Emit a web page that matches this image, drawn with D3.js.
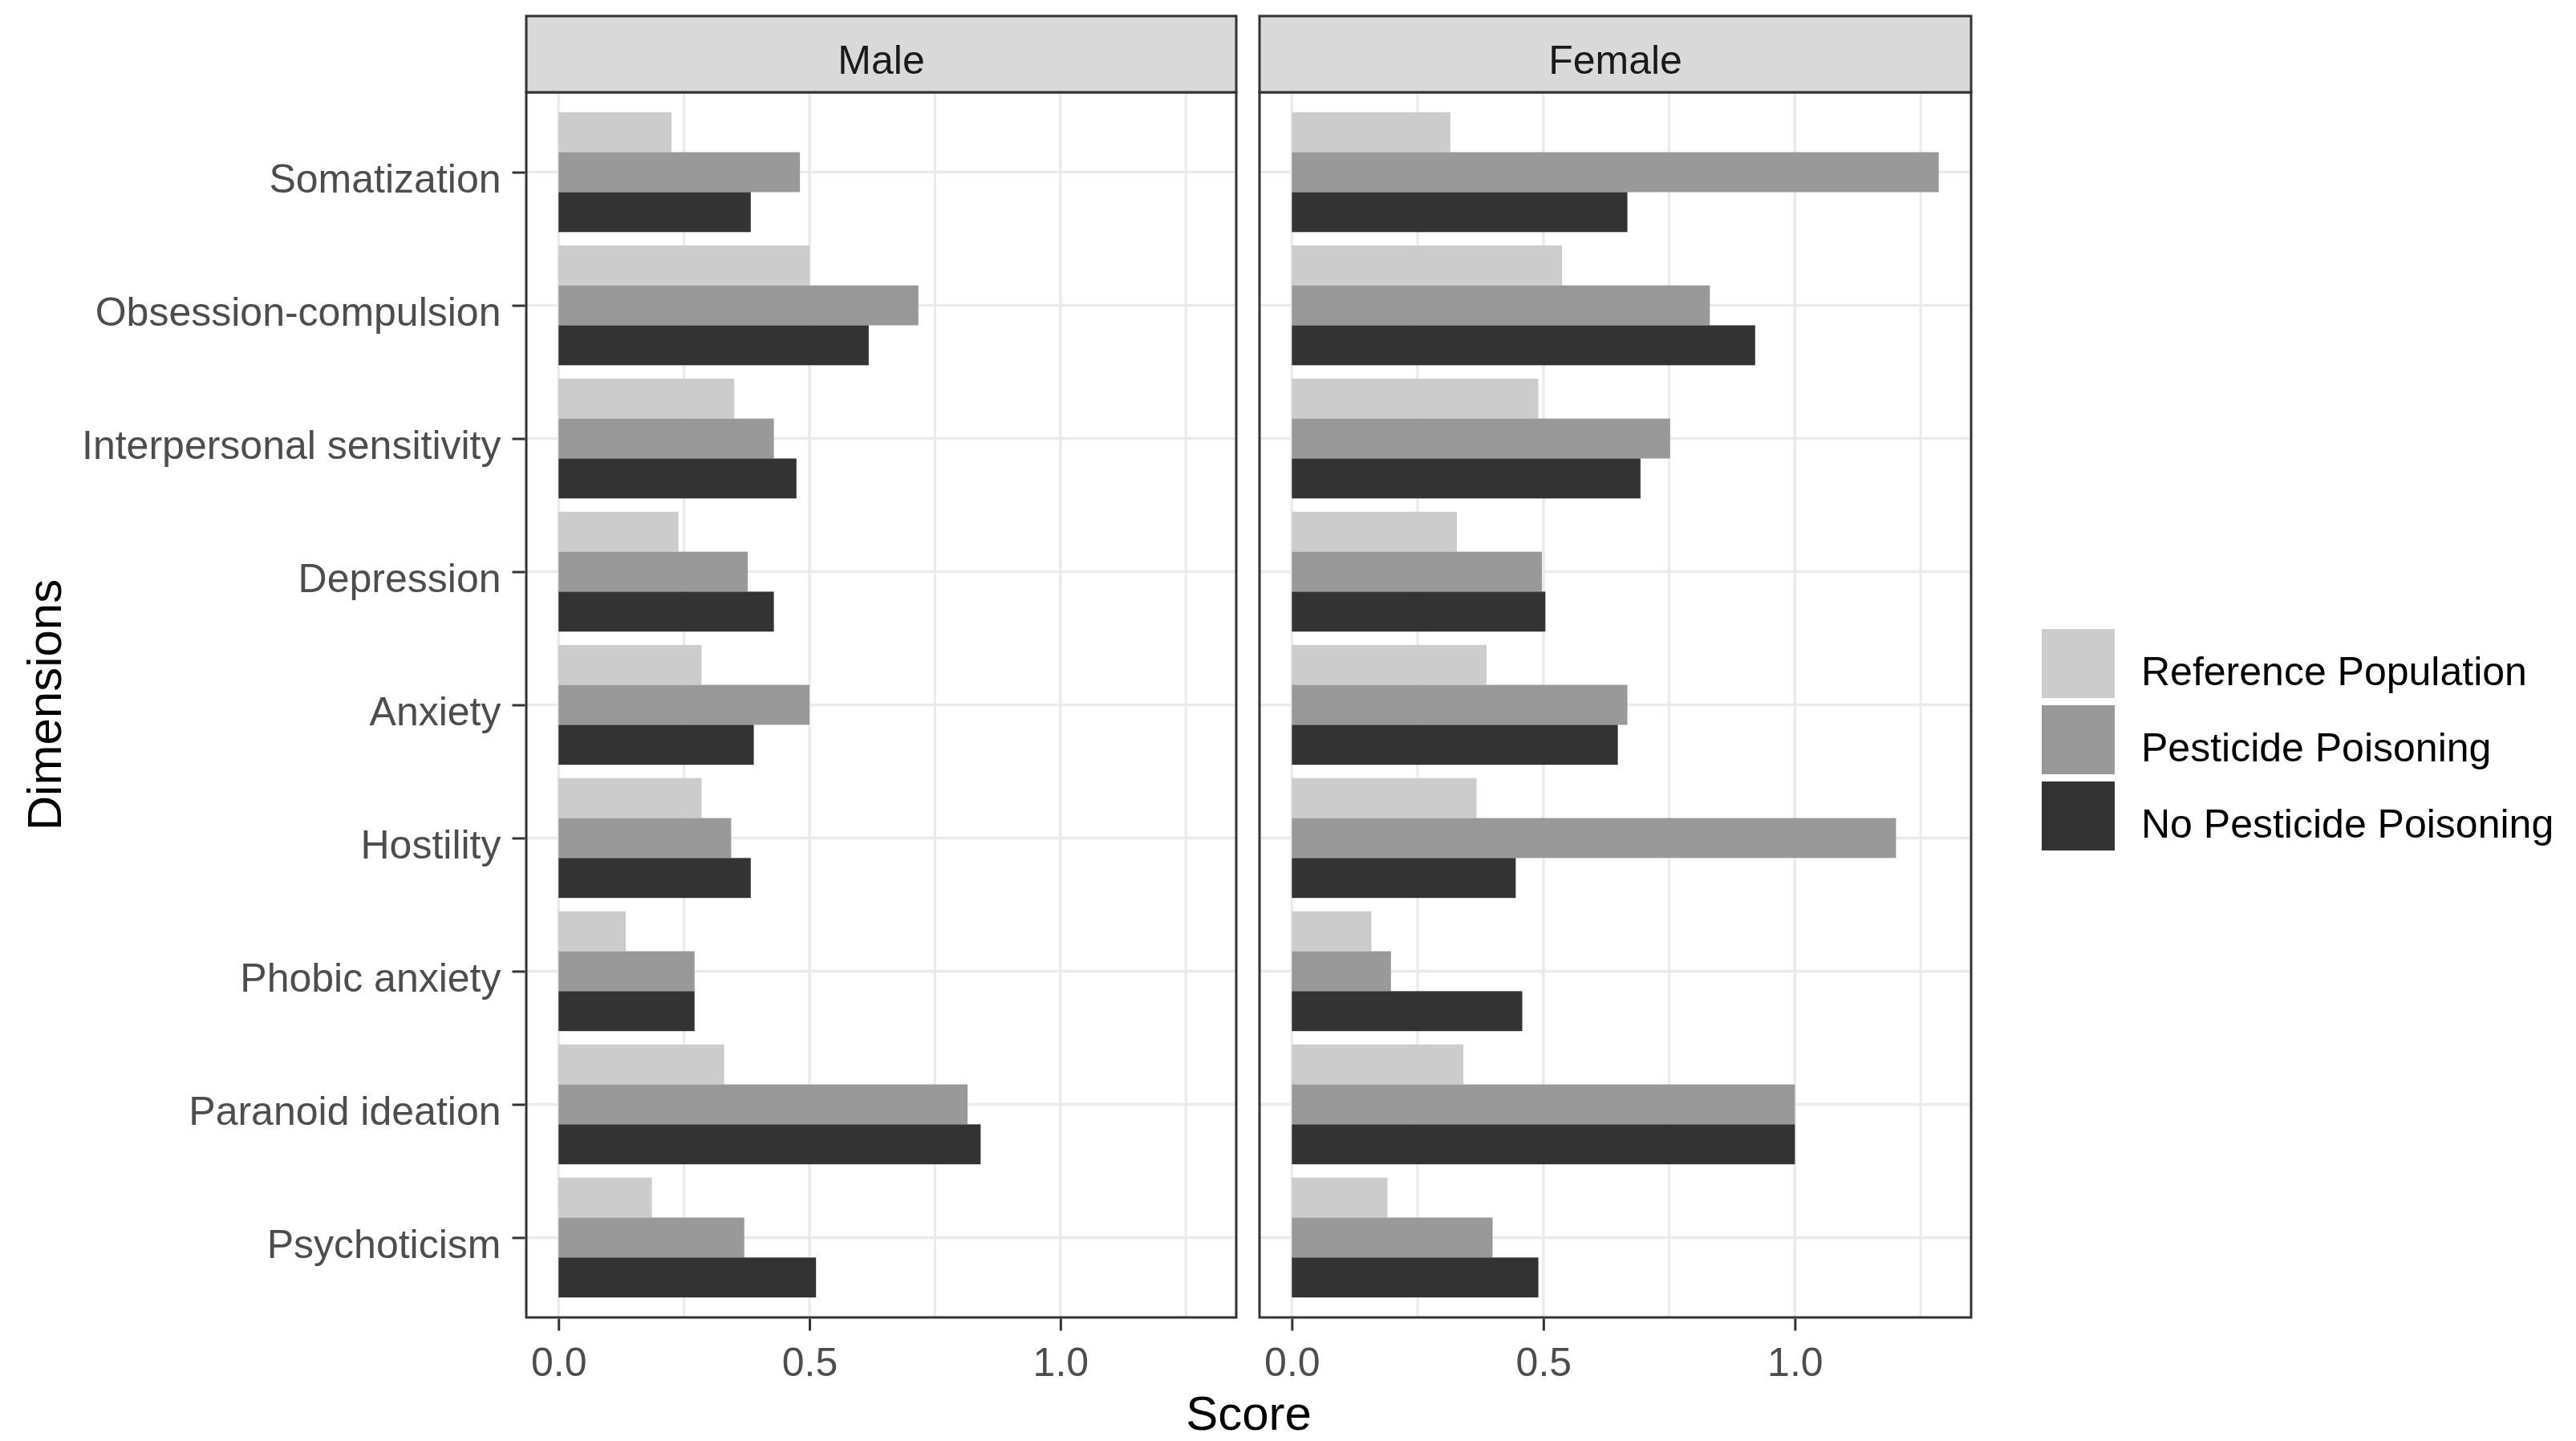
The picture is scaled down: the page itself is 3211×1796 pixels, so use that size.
<!DOCTYPE html>
<html>
<head>
<meta charset="utf-8">
<script src="https://cdn.jsdelivr.net/npm/d3@7"></script>
<style>
  html, body { margin: 0; padding: 0; background: #ffffff; }
  svg text { font-family: "Liberation Sans", Arial, sans-serif; }
</style>
</head>
<body>
<svg id="chart" width="3211" height="1796"></svg>
<script>
// ---------------- data ----------------
const categories = ["Somatization", "Obsession-compulsion", "Interpersonal sensitivity", "Depression",
  "Anxiety", "Hostility", "Phobic anxiety", "Paranoid ideation", "Psychoticism"];
const series = ["Reference Population", "Pesticide Poisoning", "No Pesticide Poisoning"];
const seriesColors = ["#cccccc", "#999999", "#333333"];
const panels = ["Male", "Female"];

const maleReference     = [0.225, 0.500, 0.350, 0.239, 0.285, 0.285, 0.134, 0.330, 0.186];
const malePesticide     = [0.481, 0.717, 0.429, 0.377, 0.500, 0.344, 0.271, 0.815, 0.370];
const maleNoPesticide   = [0.383, 0.618, 0.474, 0.429, 0.389, 0.383, 0.271, 0.841, 0.513];
const femaleReference   = [0.315, 0.537, 0.490, 0.328, 0.387, 0.367, 0.158, 0.341, 0.190];
const femalePesticide   = [1.286, 0.831, 0.752, 0.497, 0.667, 1.201, 0.197, 1.000, 0.399];
const femaleNoPesticide = [0.667, 0.921, 0.693, 0.504, 0.648, 0.445, 0.458, 1.000, 0.490];

const xMajorTicks = [0, 0.5, 1.0];
const xMinorTicks = [0.25, 0.75, 1.25];
const xTitle = "Score";
const yTitle = "Dimensions";

const panelValues = {
  Male: [maleReference, malePesticide, maleNoPesticide],
  Female: [femaleReference, femalePesticide, femaleNoPesticide]
};

// ---------------- layout ----------------
const svg = d3.select("#chart");
const panelX = { Male: [656, 1541], Female: [1570, 2457] };
const stripTop = 20, panelTop = 115, panelBottom = 1642;
const frame = "#333333", grid = "#ebebeb";

const allVals = [].concat(...panels.map(p => [].concat(...panelValues[p])));
const vmax = d3.max(allVals);

const y = d3.scalePoint().domain(categories).range([panelTop, panelBottom]).padding(0.6);
const step = y.step();
const ySub = d3.scaleBand().domain(series).range([-0.45 * step, 0.45 * step]);

panels.forEach((p, pi) => {
  const [x0, x1] = panelX[p];
  const x = d3.scaleLinear().domain([-0.05 * vmax, 1.05 * vmax]).range([x0, x1]);
  const g = svg.append("g");

  // panel background
  g.append("rect").attr("x", x0).attr("y", panelTop).attr("width", x1 - x0)
    .attr("height", panelBottom - panelTop).attr("fill", "#ffffff");

  // grid lines
  g.selectAll(".minor").data(xMinorTicks).enter().append("line")
    .attr("x1", d => x(d)).attr("x2", d => x(d))
    .attr("y1", panelTop).attr("y2", panelBottom)
    .attr("stroke", grid).attr("stroke-width", 3);
  g.selectAll(".major").data(xMajorTicks).enter().append("line")
    .attr("x1", d => x(d)).attr("x2", d => x(d))
    .attr("y1", panelTop).attr("y2", panelBottom)
    .attr("stroke", grid).attr("stroke-width", 3.5);
  g.selectAll(".hgrid").data(categories).enter().append("line")
    .attr("x1", x0).attr("x2", x1)
    .attr("y1", d => y(d)).attr("y2", d => y(d))
    .attr("stroke", grid).attr("stroke-width", 3.5);

  // bars
  series.forEach((s, si) => {
    const vals = panelValues[p][si];
    g.selectAll(".bar" + si).data(categories).enter().append("rect")
      .attr("x", x(0))
      .attr("y", (c) => y(c) + ySub(s))
      .attr("width", (c, i) => x(vals[i]) - x(0))
      .attr("height", ySub.bandwidth())
      .attr("fill", seriesColors[si]);
  });

  // panel border
  g.append("rect").attr("x", x0).attr("y", panelTop).attr("width", x1 - x0)
    .attr("height", panelBottom - panelTop).attr("fill", "none")
    .attr("stroke", frame).attr("stroke-width", 3);

  // strip
  g.append("rect").attr("x", x0).attr("y", stripTop).attr("width", x1 - x0)
    .attr("height", panelTop - stripTop).attr("fill", "#d9d9d9")
    .attr("stroke", frame).attr("stroke-width", 3);
  g.append("text").attr("x", (x0 + x1) / 2).attr("y", 92)
    .attr("text-anchor", "middle").attr("font-size", 50).attr("fill", "#1a1a1a").text(p);

  // x axis
  const xAxis = d3.axisBottom(x).tickValues(xMajorTicks).tickFormat(d3.format(".1f"))
    .tickSize(15).tickPadding(21);
  const ax = svg.append("g").attr("transform", `translate(0,${panelBottom + 1.5})`).call(xAxis);
  ax.select(".domain").remove();
  ax.selectAll(".tick line").attr("stroke", frame).attr("stroke-width", 3);
  ax.selectAll(".tick text").attr("font-size", 50).attr("fill", "#4d4d4d")
    .attr("font-family", "Liberation Sans, Arial, sans-serif").attr("dy", "0.71em");

  // y axis on first panel
  if (pi === 0) {
    const yAxis = d3.axisLeft(y).tickSize(16).tickPadding(14);
    const ay = svg.append("g").attr("transform", `translate(${x0 - 1.5},0)`).call(yAxis);
    ay.select(".domain").remove();
    ay.selectAll(".tick line").attr("stroke", frame).attr("stroke-width", 3);
    ay.selectAll(".tick text").attr("font-size", 50).attr("fill", "#4d4d4d")
      .attr("font-family", "Liberation Sans, Arial, sans-serif").attr("dy", "0.5em");
  }
});

// axis titles
svg.append("text").attr("x", (panelX.Male[0] + panelX.Female[1]) / 2).attr("y", 1782)
  .attr("text-anchor", "middle").attr("font-size", 60).attr("fill", "#000").text(xTitle);
svg.append("text").attr("transform", `translate(76,${(panelTop + panelBottom) / 2}) rotate(-90)`)
  .attr("text-anchor", "middle").attr("font-size", 60).attr("fill", "#000").text(yTitle);

// legend
const legend = svg.append("g").attr("transform", "translate(2545,784)");
const keyW = 91, keyH = 86, keyStep = 95;
series.forEach((s, i) => {
  legend.append("rect").attr("x", 0).attr("y", i * keyStep).attr("width", keyW).attr("height", keyH)
    .attr("fill", seriesColors[i]);
  legend.append("text").attr("x", 124).attr("y", i * keyStep + keyH / 2 + 27)
    .attr("font-size", 50).attr("fill", "#000").text(s);
});
</script>
</body>
</html>
